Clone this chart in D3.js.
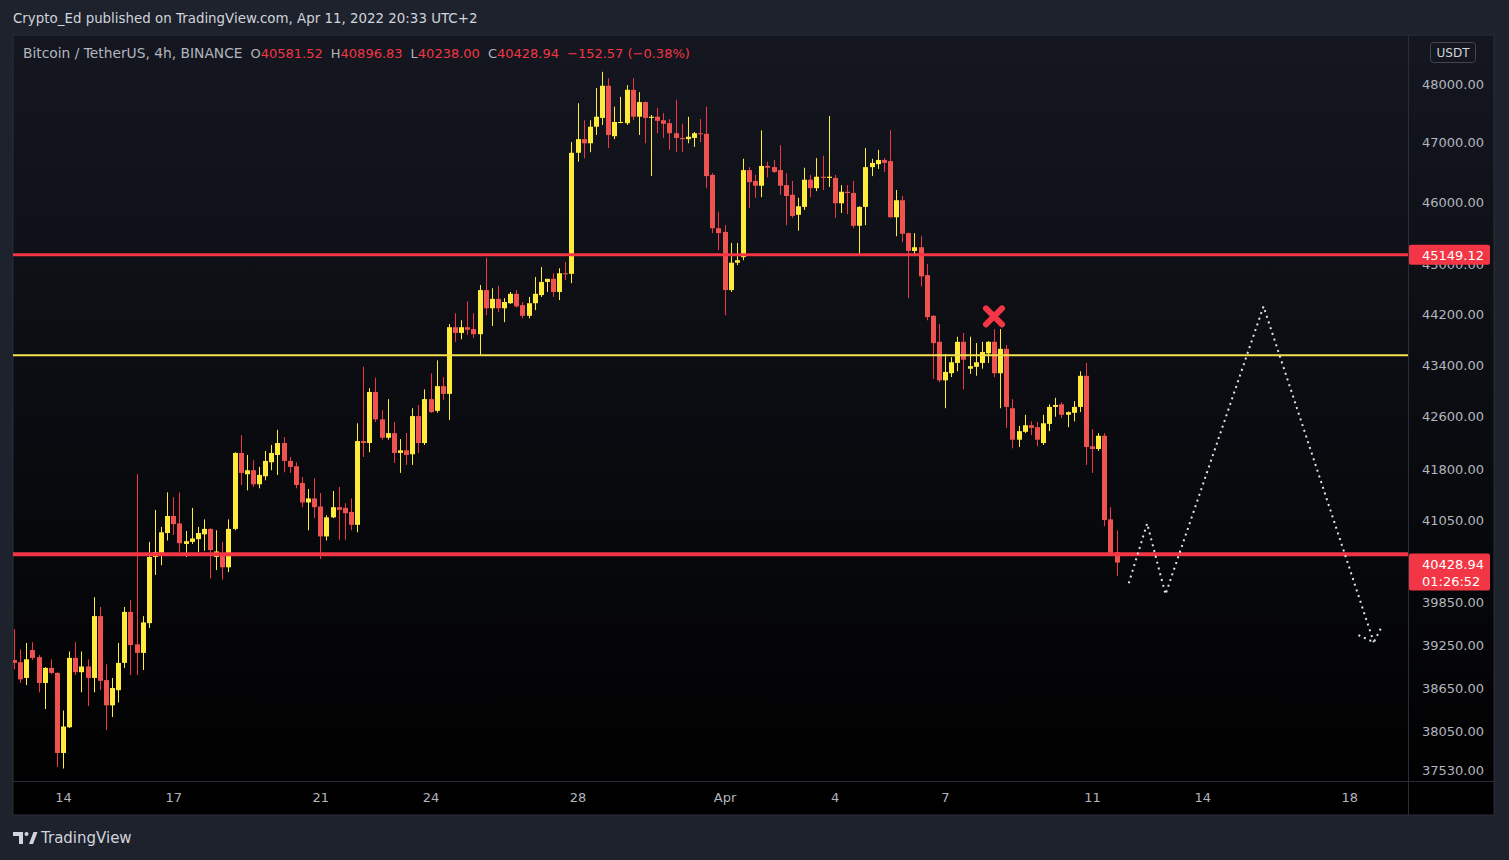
<!DOCTYPE html>
<html>
<head>
<meta charset="utf-8">
<script src="https://cdn.jsdelivr.net/npm/d3@7"></script>
<style>
  body { margin: 0; background: #1e222d; overflow: hidden; }
  svg { display: block; font-family: "DejaVu Sans", sans-serif; }
</style>
</head>
<body>
<div id="chart"></div>
<script>
// BTCUSDT 4h candles, first one opens 12 Mar 16:00
const firstCandle = Date.UTC(2022, 2, 12, 16);
const candleMs = 4 * 3600 * 1000;
// [open, high, low, close]
const ohlc = [
  [39040, 39475, 38910, 39000], [39010, 39190, 38720, 38770], [38790, 39280, 38690, 39050], [39180, 39290, 39040, 39070],
  [39080, 39110, 38590, 38720], [38720, 38940, 38360, 38930], [38930, 39050, 38840, 38860], [38860, 38870, 37570, 37760],
  [37760, 38340, 37550, 38120], [38110, 39160, 38100, 39070], [39070, 39290, 38830, 38870], [38870, 39160, 38590, 38950],
  [38950, 39050, 38400, 38790], [38790, 39930, 38590, 39660], [39660, 39790, 38620, 38750], [38760, 38980, 38070, 38410],
  [38410, 38790, 38250, 38650], [38620, 39280, 38450, 39000], [39000, 39790, 38930, 39720], [39720, 39890, 38830, 39250],
  [39260, 41730, 38830, 39140], [39140, 39660, 38900, 39570], [39560, 40730, 39490, 40510], [40510, 41200, 40250, 40580],
  [40570, 40950, 40390, 40870], [40860, 41460, 40750, 41110], [41110, 41390, 40830, 40990], [41000, 41460, 40580, 40710],
  [40700, 40890, 40510, 40740], [40730, 41230, 40700, 40780], [40770, 40950, 40580, 40860], [40840, 41060, 40600, 40920],
  [40920, 40930, 40200, 40610], [40510, 40900, 40320, 40590], [40570, 40730, 40180, 40360], [40360, 41060, 40290, 40920],
  [40920, 42060, 40900, 42050], [42050, 42320, 41570, 41750], [41730, 42020, 41490, 41790], [41790, 41940, 41540, 41580],
  [41580, 41840, 41520, 41720], [41700, 42080, 41640, 41930], [41910, 42170, 41790, 42050], [42020, 42400, 41720, 42200],
  [42200, 42290, 41760, 41930], [41930, 41990, 41750, 41840], [41850, 41910, 41520, 41570], [41600, 41690, 41240, 41310],
  [41310, 41510, 40900, 41370], [41370, 41670, 41080, 41240], [41250, 41450, 40480, 40810], [40810, 41120, 40750, 41090],
  [41090, 41480, 41080, 41240], [41240, 41540, 40760, 41200], [41230, 41300, 40760, 41150], [41170, 41370, 40900, 40980],
  [40980, 42500, 40870, 42230], [42230, 43370, 41990, 42200], [42200, 43040, 42060, 42980], [42980, 43200, 42520, 42560],
  [42560, 42700, 42250, 42280], [42280, 42870, 42250, 42350], [42350, 42520, 41900, 42050], [42050, 42260, 41750, 42090],
  [42090, 42350, 41870, 42020], [42030, 42730, 41870, 42610], [42610, 42780, 42050, 42200], [42200, 43020, 42170, 42870],
  [42870, 43270, 42660, 42670], [42690, 43470, 42660, 43070], [43070, 43210, 42860, 42950], [42950, 44040, 42550, 43990],
  [43990, 44210, 43760, 43900], [43900, 44100, 43800, 43990], [43990, 44400, 43870, 43950], [43960, 44210, 43820, 43880],
  [43880, 44660, 43550, 44580], [44580, 45100, 44180, 44290], [44290, 44610, 44010, 44440], [44440, 44650, 44230, 44290],
  [44290, 44450, 44070, 44390], [44370, 44550, 44360, 44520], [44520, 44580, 44300, 44320], [44340, 44390, 44130, 44170],
  [44170, 44470, 44130, 44370], [44370, 44790, 44260, 44520], [44500, 44950, 44470, 44710], [44710, 44760, 44550, 44760],
  [44760, 44850, 44470, 44550], [44550, 44930, 44420, 44850], [44850, 45030, 44740, 44840], [44840, 47010, 44690, 46830],
  [46830, 47670, 46680, 47060], [47060, 47380, 46740, 46990], [46990, 47380, 46840, 47270], [47270, 47930, 47130, 47440],
  [47420, 48210, 47300, 47970], [47970, 48100, 46910, 47130], [47110, 47610, 47060, 47350], [47340, 47780, 47330, 47350],
  [47330, 47980, 47300, 47900], [47900, 48100, 47380, 47440], [47440, 47860, 47130, 47690], [47690, 47700, 46990, 47420],
  [47420, 47470, 46440, 47440], [47440, 47590, 47160, 47370], [47380, 47500, 47080, 47320], [47330, 47400, 46880, 47160],
  [47160, 47730, 46840, 47080], [47080, 47320, 46840, 47060], [47060, 47440, 46990, 47100], [47080, 47180, 46930, 47160],
  [47160, 47400, 47010, 47150], [47150, 47610, 46240, 46440], [46460, 46490, 45500, 45580], [45580, 45850, 45220, 45500],
  [45520, 45630, 44180, 44580], [44580, 45340, 44550, 45020], [45020, 45340, 44980, 45060], [45110, 46730, 45060, 46540],
  [46540, 46590, 45910, 46340], [46360, 46460, 46080, 46280], [46280, 47210, 46090, 46610], [46610, 46680, 46420, 46580],
  [46590, 46710, 46490, 46510], [46540, 46960, 46130, 46280], [46290, 46490, 45630, 46110], [46130, 46360, 45750, 45780],
  [45800, 46080, 45540, 45940], [45930, 46580, 45880, 46380], [46380, 46460, 46090, 46240], [46240, 46740, 46190, 46430],
  [46430, 46780, 46210, 46410], [46410, 47450, 46260, 46430], [46410, 46460, 45750, 45990], [45990, 46290, 45830, 46180],
  [46180, 46290, 45810, 46160], [46160, 46360, 45580, 45620], [45620, 45940, 45160, 45930], [45930, 46910, 45630, 46590],
  [46590, 46730, 46440, 46660], [46640, 46880, 46560, 46710], [46710, 46740, 46510, 46660], [46690, 47210, 45750, 45760],
  [45760, 46210, 45450, 46040], [46040, 46110, 45350, 45490], [45500, 45510, 44450, 45210], [45210, 45500, 45160, 45270],
  [45270, 45450, 44640, 44800], [44820, 45000, 44100, 44150], [44170, 44180, 43180, 43740], [43760, 44040, 43130, 43160],
  [43160, 43570, 42730, 43290], [43270, 43520, 43210, 43440], [43430, 43840, 43300, 43760], [43760, 43900, 43020, 43480],
  [43340, 43840, 43260, 43380], [43370, 43740, 43230, 43440], [43430, 43760, 43340, 43600], [43580, 43770, 43430, 43760],
  [43760, 43960, 43210, 43270], [43270, 43960, 42730, 43650], [43650, 43710, 42430, 42750], [42730, 42870, 42120, 42250],
  [42250, 42460, 42140, 42380], [42370, 42630, 42350, 42470], [42470, 42530, 42320, 42430], [42440, 42520, 42150, 42250],
  [42200, 42630, 42170, 42500], [42490, 42790, 42380, 42750], [42750, 42890, 42600, 42780], [42790, 42820, 42580, 42630],
  [42630, 42680, 42440, 42670], [42660, 42840, 42530, 42750], [42750, 43300, 42670, 43230], [43230, 43430, 41870, 42140],
  [42150, 42410, 41750, 42110], [42110, 42350, 42080, 42310], [42310, 42350, 40960, 41050], [41060, 41240, 40540, 40570],
  [40581.52, 40896.83, 40238.00, 40428.94]
];

const priceTicks = [48000, 47000, 46000, 45000, 44200, 43400, 42600, 41800, 41050, 39850, 39250, 38650, 38050, 37530];
const dateTicks = ["2022-03-14", "2022-03-17", "2022-03-21", "2022-03-24", "2022-03-28", "2022-04-01",
                   "2022-04-04", "2022-04-07", "2022-04-11", "2022-04-14", "2022-04-18"];
const dateLabels = ["14", "17", "21", "24", "28", "Apr", "4", "7", "11", "14", "18"];

// drawn levels
const resistance = 45149.12;
const midLevel = 43550;
const support = 40550;

// legend
const symbolName = "Bitcoin / TetherUS, 4h, BINANCE";
const legendValues = [["O", "40581.52"], ["H", "40896.83"], ["L", "40238.00"], ["C", "40428.94"]];
const changeText = "\u2212152.57 (\u22120.38%)";
const lastPrice = 40428.94;
const countdown = "01:26:52";

// projected path (dotted) and its arrow head
const projection = [["2022-04-12T00:00Z", 40130], ["2022-04-12T12:00Z", 41000], ["2022-04-13T00:00Z", 39970],
                    ["2022-04-15T16:00Z", 44320], ["2022-04-18T16:00Z", 39290]];
const arrowHead = [["2022-04-18T06:00Z", 39390], ["2022-04-18T16:00Z", 39290], ["2022-04-18T21:00Z", 39500]];
const crossMark = ["2022-04-08T08:00Z", 44160];

const W = 1509, H = 860;
const box = {left: 13, top: 35, right: 1494, bottom: 815};
const plotRight = 1408, plotBottom = 781;

const red = "#f23645", yellow = "#ffeb3b", textCol = "#b2b5be";

let svg = d3.select("#chart").append("svg")
    .attr("width", W)
    .attr("height", H);

let defs = svg.append("defs");
let grad = defs.append("linearGradient")
    .attr("id", "bg")
    .attr("x1", 0).attr("y1", 0).attr("x2", 0).attr("y2", 1);
grad.append("stop").attr("offset", "0%").attr("stop-color", "#141720");
grad.append("stop").attr("offset", "100%").attr("stop-color", "#000000");

defs.append("clipPath").attr("id", "plotClip")
    .append("rect")
    .attr("x", box.left).attr("y", box.top)
    .attr("width", plotRight - box.left).attr("height", plotBottom - box.top);

// widget frame
svg.append("rect")
    .attr("x", box.left).attr("y", box.top)
    .attr("width", box.right - box.left).attr("height", box.bottom - box.top)
    .attr("fill", "url(#bg)")
    .attr("stroke", "#2a2e39");
svg.append("line")
    .attr("x1", plotRight + 0.5).attr("x2", plotRight + 0.5)
    .attr("y1", box.top).attr("y2", box.bottom)
    .attr("stroke", "#2a2e39");
svg.append("line")
    .attr("x1", box.left).attr("x2", box.right)
    .attr("y1", plotBottom + 0.5).attr("y2", plotBottom + 0.5)
    .attr("stroke", "#2a2e39");

// scales
let x = d3.scaleUtc()
    .domain([new Date("2022-03-14T00:00Z"), new Date("2022-04-11T00:00Z")])
    .range([63, 1092]);
let y = d3.scaleLog()
    .domain([37530, 48000])
    .range([770, 84]);

let candles = ohlc.map(function(d, i){
    return {date: new Date(firstCandle + i * candleMs), open: d[0], high: d[1], low: d[2], close: d[3]};
});

let plot = svg.append("g").attr("clip-path", "url(#plotClip)");

// wicks
plot.selectAll(".wick")
    .data(candles)
    .enter()
    .append("line")
    .attr("class", "wick")
    .attr("x1", d => Math.round(x(d.date)) + 0.5)
    .attr("x2", d => Math.round(x(d.date)) + 0.5)
    .attr("y1", d => y(d.high))
    .attr("y2", d => y(d.low))
    .attr("stroke", d => d.close >= d.open ? yellow : red)
    .attr("stroke-width", 1);

// bodies
plot.selectAll(".body")
    .data(candles)
    .enter()
    .append("rect")
    .attr("class", "body")
    .attr("x", d => Math.round(x(d.date)) - 2)
    .attr("width", 5)
    .attr("y", d => y(Math.max(d.open, d.close)))
    .attr("height", d => Math.max(1, Math.abs(y(d.open) - y(d.close))))
    .attr("fill", d => d.close >= d.open ? yellow : "#ef5350");

// horizontal levels
function level(price, color, width){
    plot.append("line")
        .attr("x1", box.left).attr("x2", plotRight)
        .attr("y1", y(price)).attr("y2", y(price))
        .attr("stroke", color)
        .attr("stroke-width", width);
}
level(resistance, red, 3);
level(midLevel, "#f4e04d", 2);
level(support, red, 4);

// projection
let line = d3.line()
    .x(d => x(new Date(d[0])))
    .y(d => y(d[1]));
plot.append("path")
    .datum(projection)
    .attr("d", line)
    .attr("fill", "none")
    .attr("stroke", "#e0e3eb")
    .attr("stroke-width", 2)
    .attr("stroke-dasharray", "2 4");
plot.append("path")
    .datum(arrowHead)
    .attr("d", line)
    .attr("fill", "none")
    .attr("stroke", "#e0e3eb")
    .attr("stroke-width", 2)
    .attr("stroke-dasharray", "2 4");

// red cross
let cx = x(new Date(crossMark[0])), cy = y(crossMark[1]);
plot.append("path")
    .attr("d", `M${cx - 8},${cy - 8}L${cx + 8},${cy + 8}M${cx + 8},${cy - 8}L${cx - 8},${cy + 8}`)
    .attr("stroke", red)
    .attr("stroke-width", 6)
    .attr("stroke-linecap", "round");

// price axis
let yAxis = svg.append("g")
    .attr("transform", "translate(" + plotRight + ",0)")
    .call(d3.axisRight(y)
        .tickValues(priceTicks)
        .tickFormat(d => d.toFixed(2))
        .tickSize(0)
        .tickPadding(14));
yAxis.select(".domain").remove();
yAxis.selectAll("text")
    .attr("fill", textCol)
    .style("font-size", "13px")
    .style("font-family", "DejaVu Sans, sans-serif");

// time axis
let xAxis = svg.append("g")
    .attr("transform", "translate(0," + plotBottom + ")")
    .call(d3.axisBottom(x)
        .tickValues(dateTicks.map(d => new Date(d + "T00:00Z")))
        .tickFormat((d, i) => dateLabels[i])
        .tickSize(0)
        .tickPadding(12));
xAxis.select(".domain").remove();
xAxis.selectAll("text")
    .attr("fill", textCol)
    .style("font-size", "13px")
    .style("font-family", "DejaVu Sans, sans-serif");

// price tags
let tagR = y(resistance);
svg.append("rect")
    .attr("x", plotRight + 1).attr("y", tagR - 10)
    .attr("width", 81).attr("height", 20)
    .attr("rx", 2)
    .attr("fill", red);
svg.append("text")
    .attr("x", 1422).attr("y", tagR + 5)
    .attr("fill", "#ffffff")
    .style("font-size", "13px")
    .text(resistance.toFixed(2));

let tagL = y(lastPrice);
svg.append("rect")
    .attr("x", plotRight + 1).attr("y", tagL - 9)
    .attr("width", 81).attr("height", 37)
    .attr("rx", 2)
    .attr("fill", red);
svg.append("text")
    .attr("x", 1422).attr("y", tagL + 6)
    .attr("fill", "#ffffff")
    .style("font-size", "13px")
    .text(lastPrice.toFixed(2));
svg.append("text")
    .attr("x", 1422).attr("y", tagL + 23)
    .attr("fill", "#ffffff")
    .style("font-size", "13px")
    .text(countdown);

// currency badge
svg.append("rect")
    .attr("x", 1430.5).attr("y", 42.5)
    .attr("width", 45).attr("height", 20)
    .attr("rx", 3)
    .attr("fill", "none")
    .attr("stroke", "#434651");
svg.append("text")
    .attr("x", 1453).attr("y", 57)
    .attr("text-anchor", "middle")
    .attr("fill", "#d1d4dc")
    .style("font-size", "12px")
    .text("USDT");

// header
svg.append("text")
    .attr("x", 13).attr("y", 23)
    .attr("fill", "#d1d4dc")
    .style("font-size", "13.4px")
    .text("Crypto_Ed published on TradingView.com, Apr 11, 2022 20:33 UTC+2");

// legend
let legend = svg.append("text")
    .attr("x", 23).attr("y", 58)
    .style("font-size", "13px");
legend.append("tspan").attr("fill", textCol).style("font-size", "13.8px").text(symbolName);
legendValues.forEach(function(d, i){
    legend.append("tspan").attr("fill", textCol).attr("dx", 8).text(d[0]);
    legend.append("tspan").attr("fill", red).text(d[1]);
});
legend.append("tspan").attr("fill", red).attr("dx", 8).text(changeText);

// footer logo
let logo = svg.append("g").attr("fill", "#d1d4dc");
logo.append("path").attr("d", "M13,832h10v12h-4v-8h-6z");
logo.append("circle").attr("cx", 26.5).attr("cy", 834).attr("r", 2);
logo.append("path").attr("d", "M29,844L33.5,832h4L33,844z");
svg.append("text")
    .attr("x", 41).attr("y", 843)
    .attr("fill", "#d1d4dc")
    .style("font-size", "15px")
    .text("TradingView");
</script>
</body>
</html>
